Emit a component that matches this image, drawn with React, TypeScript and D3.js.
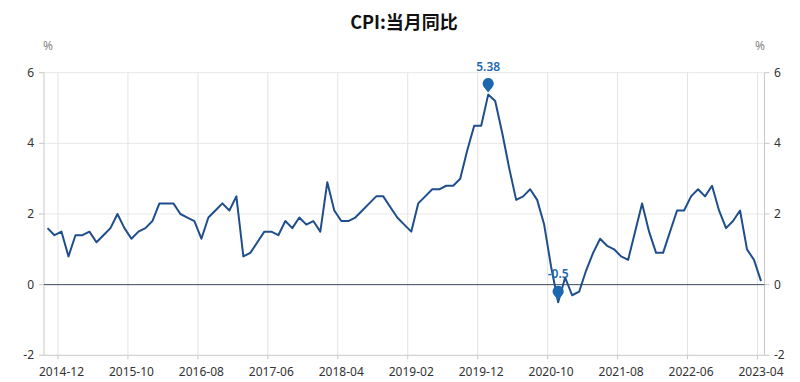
import React from 'react';
import * as d3 from 'd3';

const startYear = 2014;
const startMonth = 10;
const values: number[] = [
  1.6, 1.4, 1.5,
  0.8, 1.4, 1.4, 1.5, 1.2, 1.4, 1.6, 2.0, 1.6, 1.3, 1.5, 1.6,
  1.8, 2.3, 2.3, 2.3, 2.0, 1.9, 1.8, 1.3, 1.9, 2.1, 2.3, 2.1,
  2.5, 0.8, 0.9, 1.2, 1.5, 1.5, 1.4, 1.8, 1.6, 1.9, 1.7, 1.8,
  1.5, 2.9, 2.1, 1.8, 1.8, 1.9, 2.1, 2.3, 2.5, 2.5, 2.2, 1.9,
  1.7, 1.5, 2.3, 2.5, 2.7, 2.7, 2.8, 2.8, 3.0, 3.8, 4.5, 4.5,
  5.38, 5.2, 4.3, 3.3, 2.4, 2.5, 2.7, 2.4, 1.7, 0.5, -0.5, 0.2,
  -0.3, -0.2, 0.4, 0.9, 1.3, 1.1, 1.0, 0.8, 0.7, 1.5, 2.3, 1.5,
  0.9, 0.9, 1.5, 2.1, 2.1, 2.5, 2.7, 2.5, 2.8, 2.1, 1.6, 1.8,
  2.1, 1.0, 0.7, 0.1,
];
const months: string[] = values.map((_, i) => {
  const m = startMonth - 1 + i;
  const y = startYear + Math.floor(m / 12);
  const mm = (m % 12) + 1;
  return `${y}-${String(mm).padStart(2, '0')}`;
});
const xTickLabels = ['2014-12', '2015-10', '2016-08', '2017-06', '2018-04', '2019-02', '2019-12', '2020-10', '2021-08', '2022-06', '2023-04'];
const yTicks = [-2, 0, 2, 4, 6];
const title = 'CPI:当月同比';
const unit = '%';

const W = 800, H = 382;
const L = 44, R = 764.5, T = 72.7, B = 355.3;
const lineColor = '#1f4e8c';
const markColor = '#1d67b1';
const font = '"Noto Sans", "Noto Sans CJK SC", sans-serif';

export default function App() {
  const x = d3.scaleBand<string>().domain(months).range([L, R]).padding(0);
  const bw = x.bandwidth();
  const cx = (m: string) => (x(m) as number) + bw / 2;
  const y = d3.scaleLinear().domain([-2, 6]).range([B, T]);
  const line = d3.line<number>().x((_, i) => cx(months[i])).y(d => y(d));

  const maxV = d3.max(values) as number;
  const minV = d3.min(values) as number;
  const maxI = values.indexOf(maxV);
  const minI = values.indexOf(minV);
  const pin = 'M0,-2 L-4.4,-7.5 A5.6,5.6 0 1 1 4.4,-7.5 Z';

  const marks = [
    { i: maxI, v: maxV, label: String(maxV) },
    { i: minI, v: minV, label: String(minV) },
  ];

  return (
    <svg width={W} height={H} style={{ position: 'absolute', left: 0, top: 0, display: 'block', background: '#fff' }} fontFamily={font}>
      <rect x={0} y={0} width={W} height={H} fill="#fff" />
      <text x={404} y={29} textAnchor="middle" fontSize={18} fontWeight="bold" fill="#111" fontFamily='"Noto Sans CJK SC", sans-serif'>{title}</text>
      <text x={48} y={50} textAnchor="middle" fontSize={12} fill="#888">{unit}</text>
      <text x={760} y={50} textAnchor="middle" fontSize={12} fill="#888">{unit}</text>

      {yTicks.filter(t => t > 0).map(t => (
        <line key={'hg' + t} x1={L} x2={R} y1={y(t)} y2={y(t)} stroke="#e8e8e8" strokeWidth={1} />
      ))}
      {xTickLabels.map(lab => (
        <line key={'vg' + lab} x1={x(lab) as number} x2={x(lab) as number} y1={T} y2={B} stroke="#e3e3e3" strokeWidth={1} />
      ))}

      <line x1={L} x2={L} y1={T} y2={B} stroke="#c8c8c8" />
      <line x1={R} x2={R} y1={T} y2={B} stroke="#c8c8c8" />
      <line x1={L} x2={R} y1={B} y2={B} stroke="#c8c8c8" />
      {xTickLabels.map(lab => (
        <line key={'xt' + lab} x1={x(lab) as number} x2={x(lab) as number} y1={B} y2={B + 4} stroke="#c8c8c8" />
      ))}
      {yTicks.map(t => (
        <g key={'yt' + t}>
          <line x1={L - 5} x2={L} y1={y(t)} y2={y(t)} stroke="#c8c8c8" />
          <line x1={R} x2={R + 5} y1={y(t)} y2={y(t)} stroke="#c8c8c8" />
          <text x={34} y={y(t) + 4} textAnchor="end" fontSize={12} fill="#333">{t}</text>
          <text x={774} y={y(t) + 4} textAnchor="start" fontSize={12} fill="#333">{t}</text>
        </g>
      ))}
      {xTickLabels.map(lab => (
        <text key={'xl' + lab} x={cx(lab)} y={376} textAnchor="middle" fontSize={12} fill="#333">{lab}</text>
      ))}

      <line x1={L} x2={R} y1={y(0)} y2={y(0)} stroke="#3a4a5e" strokeWidth={1} />

      <path d={line(values) as string} fill="none" stroke={lineColor} strokeWidth={2} strokeLinejoin="round" />

      {marks.map(mk => (
        <g key={'mk' + mk.i}>
          <path d={pin} transform={`translate(${cx(months[mk.i])},${y(mk.v)})`} fill={markColor} />
          <text x={cx(months[mk.i])} y={y(mk.v) - 24} textAnchor="middle" fontSize={12} fontWeight={600} fill={markColor}>{mk.label}</text>
        </g>
      ))}
    </svg>
  );
}
